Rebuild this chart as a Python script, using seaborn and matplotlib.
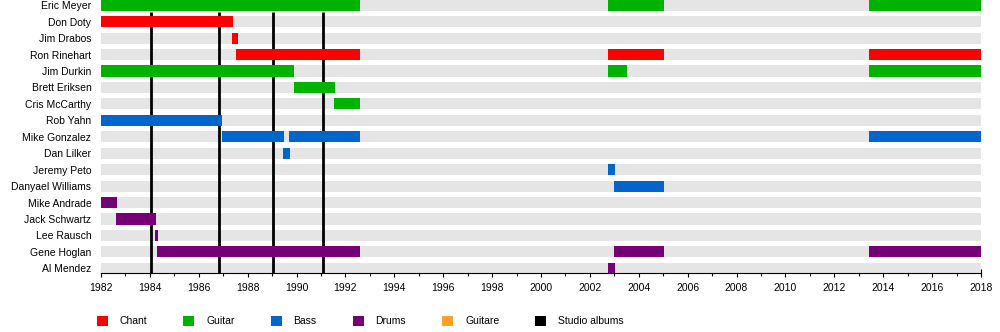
import matplotlib
matplotlib.use("Agg")
import matplotlib.pyplot as plt
from matplotlib.patches import Patch
import seaborn as sns
import pandas as pd

members = ["Eric Meyer", "Don Doty", "Jim Drabos", "Ron Rinehart", "Jim Durkin",
           "Brett Eriksen", "Cris McCarthy", "Rob Yahn", "Mike Gonzalez", "Dan Lilker",
           "Jeremy Peto", "Danyael Williams", "Mike Andrade", "Jack Schwartz",
           "Lee Rausch", "Gene Hoglan", "Al Mendez"]

seg_member = ["Eric Meyer", "Eric Meyer", "Eric Meyer",
              "Don Doty", "Jim Drabos",
              "Ron Rinehart", "Ron Rinehart", "Ron Rinehart",
              "Jim Durkin", "Jim Durkin", "Jim Durkin",
              "Brett Eriksen", "Cris McCarthy", "Rob Yahn",
              "Mike Gonzalez", "Mike Gonzalez", "Mike Gonzalez",
              "Dan Lilker", "Jeremy Peto", "Danyael Williams",
              "Mike Andrade", "Jack Schwartz", "Lee Rausch",
              "Gene Hoglan", "Gene Hoglan", "Gene Hoglan", "Al Mendez"]
seg_start = [1982.0, 2002.75, 2013.42,
             1982.0, 1987.35,
             1987.52, 2002.75, 2013.42,
             1982.0, 2002.75, 2013.42,
             1989.9, 1991.55, 1982.0,
             1986.95, 1989.7, 2013.42,
             1989.45, 2002.75, 2003.0,
             1982.0, 1982.6, 1984.2,
             1984.3, 2003.0, 2013.42, 2002.75]
seg_end = [1992.6, 2005.05, 2018.0,
           1987.4, 1987.6,
           1992.6, 2005.05, 2018.0,
           1989.9, 2003.5, 2018.0,
           1991.57, 1992.6, 1986.95,
           1989.5, 1992.6, 2018.0,
           1989.75, 2003.03, 2005.05,
           1982.65, 1984.25, 1984.35,
           1992.6, 2005.05, 2018.0, 2003.03]
seg_role = ["Guitar", "Guitar", "Guitar",
            "Chant", "Chant",
            "Chant", "Chant", "Chant",
            "Guitar", "Guitar", "Guitar",
            "Guitar", "Guitar", "Bass",
            "Bass", "Bass", "Bass",
            "Bass", "Bass", "Bass",
            "Drums", "Drums", "Drums",
            "Drums", "Drums", "Drums", "Drums"]

albums = [1984.05, 1986.83, 1989.04, 1991.08]

legend_labels = ["Chant", "Guitar", "Bass", "Drums", "Guitare", "Studio albums"]
role_colors = {"Chant": "#ff0000", "Guitar": "#00b300", "Bass": "#0066cc",
               "Drums": "#770077", "Guitare": "#ffa126", "Studio albums": "#000000"}

start_year, end_year = 1982, 2018

sns.set_theme(style="white")
plt.rcParams["font.family"] = ["Liberation Sans", "DejaVu Sans"]
plt.rcParams["text.color"] = "black"
plt.rcParams["xtick.color"] = "black"
plt.rcParams["ytick.color"] = "black"

fig = plt.figure(figsize=(10, 3.32), dpi=100)
ax = fig.add_axes([0.101, 0.178, 0.880, 0.822])

bar_h = 0.68
bg = pd.DataFrame({"member": members, "end": [end_year] * len(members)})
sns.barplot(data=bg, x="end", y="member", orient="h", color="#e5e5e5",
            width=bar_h, saturation=1, ax=ax, zorder=1,
            linewidth=0, edgecolor="none")

ypos = {m: i for i, m in enumerate(members)}

for a in albums:
    ax.plot([a, a], [0.4, 16.6], color="black", lw=2, zorder=2, solid_capstyle="butt")

df = pd.DataFrame({"member": seg_member, "start": seg_start, "end": seg_end, "role": seg_role})
for _, r in df.iterrows():
    y = ypos[r["member"]]
    ax.barh(y, r["end"] - r["start"], left=r["start"], height=bar_h,
            color=role_colors[r["role"]], zorder=3, linewidth=0)

ax.set_xlim(start_year, end_year)
ax.set_ylim(16.28, -0.32)
ax.set_xlabel("")
ax.set_ylabel("")
ax.set_xticks(range(start_year, end_year + 1, 2))
ax.set_xticks(range(start_year, end_year + 1), minor=True)
ax.tick_params(axis="x", which="major", direction="inout", length=6, width=0.8,
               labelsize=7.5, pad=4, color="black", labelcolor="black", bottom=True)
ax.tick_params(axis="x", which="minor", direction="inout", length=4, width=0.8,
               color="black", bottom=True)
ax.tick_params(axis="y", length=0, labelsize=7.5, pad=7, labelcolor="black")
for s in ["top", "right", "left"]:
    ax.spines[s].set_visible(False)
ax.spines["bottom"].set_color("black")
ax.spines["bottom"].set_linewidth(0.8)

handles = [Patch(facecolor=role_colors[l], edgecolor="none") for l in legend_labels]
fig.legend(handles, legend_labels, loc="center left", bbox_to_anchor=(0.097, 0.033),
           ncol=6, frameon=False, fontsize=7.5, handlelength=1.05, handleheight=1.15,
           handletextpad=1.15, columnspacing=3.45, borderpad=0, borderaxespad=0,
           labelcolor="black")

fig.savefig("out.png", dpi=100)
